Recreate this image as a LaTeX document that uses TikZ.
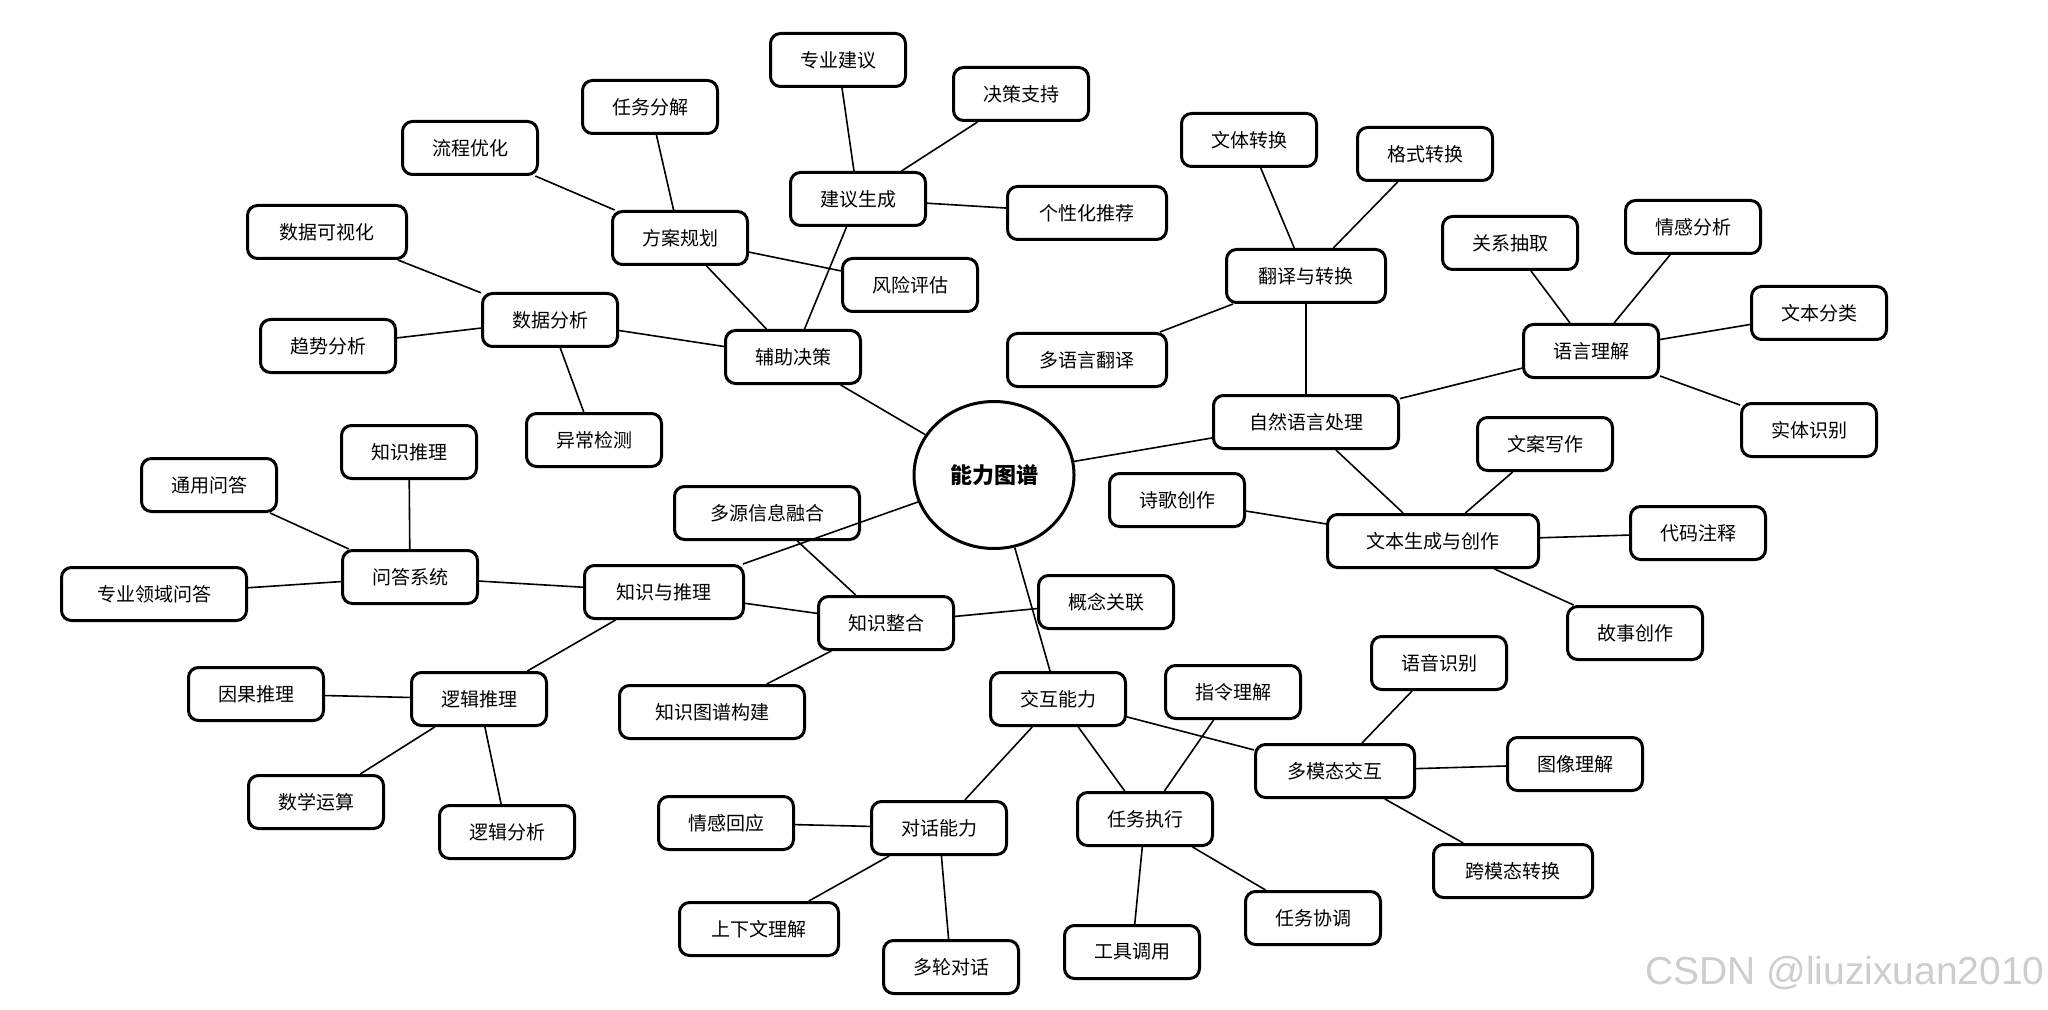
\documentclass[tikz,border=0pt]{standalone}
\usepackage{fontspec}
\setmainfont{Noto Sans CJK SC}
\newfontfamily\markfont{Liberation Sans}
\usepackage{tikz}
\usetikzlibrary{shapes.geometric}
\definecolor{markgray}{RGB}{205,205,205}

\begin{document}
\begin{tikzpicture}[x=0.5pt, y=-0.5pt,
  box/.style={draw, line width=1.5pt, rounded corners=5pt, minimum width=67.5pt,
    minimum height=26.5pt, inner sep=0pt, font=\fontsize{9.5}{11}\selectfont},
  wide/.style={box, minimum width=79.5pt},
  wider/.style={box, minimum width=92.5pt},
  widest/.style={box, minimum width=105.5pt},
  link/.style={line width=0.8pt}]
  \useasboundingbox (0,0) rectangle (2048,1010);

  % Centre
  \node[draw, ellipse, line width=1.5pt, minimum width=80pt, minimum height=73.5pt,
    font=\fontsize{11}{13}\selectfont\bfseries] (core) at (994,475) {能力图谱};

  % Decision support
  \node[box] (decide) at (793,357) {辅助决策};
  \node[box] (data) at (550,320) {数据分析};
  \node[box] (plan) at (680,238) {方案规划};
  \node[box] (advise) at (858,199) {建议生成};
  \node[wide] (dataviz) at (327,232) {数据可视化};
  \node[box] (trend) at (328,346) {趋势分析};
  \node[box] (anomaly) at (594,440) {异常检测};
  \node[box] (flow) at (470,148) {流程优化};
  \node[box] (split) at (650,107) {任务分解};
  \node[box] (risk) at (910,285) {风险评估};
  \node[box] (expert) at (838,60) {专业建议};
  \node[box] (support) at (1021,94) {决策支持};
  \node[wide] (recommend) at (1087,213) {个性化推荐};

  % Natural language processing
  \node[wider] (nlp) at (1306,422) {自然语言处理};
  \node[wide] (translate) at (1306,276) {翻译与转换};
  \node[box] (understand) at (1591,351) {语言理解};
  \node[widest] (generate) at (1433,541) {文本生成与创作};
  \node[box] (style) at (1249,140) {文体转换};
  \node[box] (format) at (1425,154) {格式转换};
  \node[wide] (multilang) at (1087,360) {多语言翻译};
  \node[box] (relation) at (1510,243) {关系抽取};
  \node[box] (sentiment) at (1693,227) {情感分析};
  \node[box] (classify) at (1819,313) {文本分类};
  \node[box] (entity) at (1809,430) {实体识别};
  \node[box] (copy) at (1545,444) {文案写作};
  \node[box] (poem) at (1177,500) {诗歌创作};
  \node[box] (comment) at (1698,533) {代码注释};
  \node[box] (story) at (1635,633) {故事创作};

  % Knowledge and reasoning
  \node[wide] (know) at (664,592) {知识与推理};
  \node[box] (qa) at (410,577) {问答系统};
  \node[box] (integrate) at (886,623) {知识整合};
  \node[box] (logic) at (479,699) {逻辑推理};
  \node[box] (general) at (209,485) {通用问答};
  \node[box] (kinfer) at (409,452) {知识推理};
  \node[wider] (domain) at (154,594) {专业领域问答};
  \node[wider] (fusion) at (767,513) {多源信息融合};
  \node[box] (concept) at (1106,602) {概念关联};
  \node[wider] (graph) at (712,712) {知识图谱构建};
  \node[box] (cause) at (256,694) {因果推理};
  \node[box] (math) at (316,802) {数学运算};
  \node[box] (analysis) at (507,832) {逻辑分析};

  % Interaction
  \node[box] (interact) at (1058,699) {交互能力};
  \node[box] (dialog) at (939,828) {对话能力};
  \node[box] (task) at (1145,819) {任务执行};
  \node[wide] (modal) at (1335,771) {多模态交互};
  \node[box] (empathy) at (726,823) {情感回应};
  \node[wide] (context) at (759,929) {上下文理解};
  \node[box] (multiturn) at (951,967) {多轮对话};
  \node[box] (instruct) at (1233,692) {指令理解};
  \node[box] (tool) at (1132,952) {工具调用};
  \node[box] (coord) at (1313,918) {任务协调};
  \node[box] (speech) at (1439,663) {语音识别};
  \node[box] (image) at (1575,764) {图像理解};
  \node[wide] (cross) at (1513,871) {跨模态转换};

  % Links
  \foreach \a/\b in {core/decide, core/nlp, core/know, core/interact,
      decide/data, decide/plan, decide/advise,
      data/dataviz, data/trend, data/anomaly,
      plan/flow, plan/split, plan/risk,
      advise/expert, advise/support, advise/recommend,
      nlp/translate, nlp/understand, nlp/generate,
      translate/style, translate/format, translate/multilang,
      understand/relation, understand/sentiment, understand/classify, understand/entity,
      generate/copy, generate/poem, generate/comment, generate/story,
      know/qa, know/integrate, know/logic,
      qa/general, qa/kinfer, qa/domain,
      integrate/fusion, integrate/concept, integrate/graph,
      logic/cause, logic/math, logic/analysis,
      interact/dialog, interact/task, interact/modal,
      dialog/empathy, dialog/context, dialog/multiturn,
      task/instruct, task/tool, task/coord,
      modal/speech, modal/image, modal/cross}
    \draw[link] (\a) -- (\b);

  % Watermark
  \node[markgray, font=\markfont\fontsize{19.5}{22}\selectfont] (mark) at (1845,973) {CSDN @liuzixuan2010};
\end{tikzpicture}
\end{document}
